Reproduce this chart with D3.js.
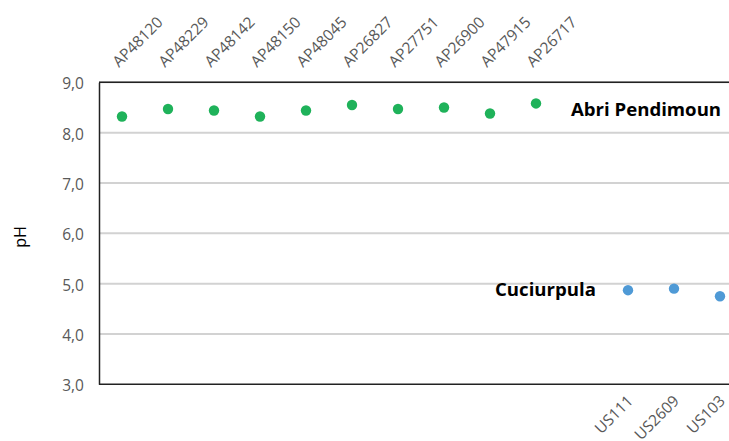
<!DOCTYPE html>
<html>
<head>
<meta charset="utf-8">
<script src="https://cdn.jsdelivr.net/npm/d3@7"></script>
<style>
  html, body { margin: 0; padding: 0; background: #fff; overflow: hidden; }
  svg { display: block; }
</style>
</head>
<body>
<svg id="chart" width="729" height="441"></svg>
<script>
// ---- data ----
const apCategories = ["AP48120","AP48229","AP48142","AP48150","AP48045","AP26827","AP27751","AP26900","AP47915","AP26717"];
const apValues     = [8.32, 8.47, 8.44, 8.32, 8.44, 8.55, 8.47, 8.50, 8.38, 8.58];
const usCategories = ["US111","US2609","US103"];
const usValues     = [4.87, 4.90, 4.75];
const gapCategory  = [" "];
const yTicks       = [3, 4, 5, 6, 7, 8, 9];
const seriesNames  = ["Abri Pendimoun", "Cuciurpula"];

// ---- layout ----
const plotLeft = 99, plotTop = 82.3, plotBottom = 384.3;
const catStep = 46;
const allCats = [...apCategories, ...gapCategory, ...usCategories];

const svg = d3.select("#chart");
const x = d3.scaleBand().domain(allCats).range([plotLeft, plotLeft + catStep * allCats.length]).padding(0);
const y = d3.scaleLinear().domain([3, 9]).range([plotBottom, plotTop]);
const cx = c => x(c) + x.bandwidth() / 2;
const fmt = v => d3.format(".1f")(v).replace(".", ",");
const plotRight = x.range()[1];

// gridlines
svg.append("g").selectAll("line").data(yTicks.filter(t => t !== 3)).join("line")
  .attr("x1", plotLeft).attr("x2", plotRight)
  .attr("y1", d => y(d)).attr("y2", d => y(d))
  .attr("stroke", "#d2d2d2").attr("stroke-width", 2);

// y axis
const yAxis = d3.axisLeft(y).tickValues(yTicks).tickFormat(fmt).tickSize(0).tickPadding(15);
const gy = svg.append("g").attr("transform", `translate(${plotLeft},0)`).call(yAxis);
gy.select(".domain").attr("stroke", "#222").attr("stroke-width", 1.5);
gy.selectAll("text").attr("font-family", "'Open Sans', sans-serif").attr("font-size", 15.5)
  .attr("fill", "#595959").attr("dy", "0.42em");

// top & bottom frame lines
svg.append("line").attr("x1", plotLeft).attr("x2", plotRight).attr("y1", plotTop).attr("y2", plotTop)
  .attr("stroke", "#222").attr("stroke-width", 1.5);
svg.append("line").attr("x1", plotLeft).attr("x2", plotRight).attr("y1", plotBottom).attr("y2", plotBottom)
  .attr("stroke", "#222").attr("stroke-width", 1.5);

// top category labels (AP)
svg.append("g").selectAll("text").data(apCategories).join("text")
  .attr("transform", d => `translate(${cx(d) - 3},68) rotate(-45)`)
  .attr("text-anchor", "start")
  .attr("font-family", "'Open Sans', sans-serif").attr("font-size", 15.5)
  .attr("fill", "#595959")
  .text(d => d);

// bottom category labels (US)
svg.append("g").selectAll("text").data(usCategories).join("text")
  .attr("transform", d => `translate(${cx(d) + 6},402) rotate(-45)`)
  .attr("text-anchor", "end")
  .attr("font-family", "'Open Sans', sans-serif").attr("font-size", 15.5)
  .attr("fill", "#595959")
  .text(d => d);

// points
svg.append("g").selectAll("circle").data(apCategories.map((c, i) => ({c, v: apValues[i]}))).join("circle")
  .attr("cx", d => cx(d.c)).attr("cy", d => y(d.v)).attr("r", 5.2).attr("fill", "#1fb25a");
svg.append("g").selectAll("circle").data(usCategories.map((c, i) => ({c, v: usValues[i]}))).join("circle")
  .attr("cx", d => cx(d.c)).attr("cy", d => y(d.v)).attr("r", 5.2).attr("fill", "#4f9ad6");

// series annotations
svg.append("text").attr("x", 571).attr("y", 116)
  .attr("font-family", "'Open Sans', sans-serif").attr("font-weight", "bold").attr("font-size", 18.6)
  .attr("fill", "#000").text(seriesNames[0]);
svg.append("text").attr("x", 495).attr("y", 296)
  .attr("font-family", "'Open Sans', sans-serif").attr("font-weight", "bold").attr("font-size", 18.6)
  .attr("fill", "#000").text(seriesNames[1]);

// y axis title
svg.append("text").attr("transform", "translate(26,237) rotate(-90)")
  .attr("text-anchor", "middle")
  .attr("font-family", "'Open Sans', sans-serif").attr("font-size", 16)
  .attr("fill", "#000").text("pH");
</script>
</body>
</html>
